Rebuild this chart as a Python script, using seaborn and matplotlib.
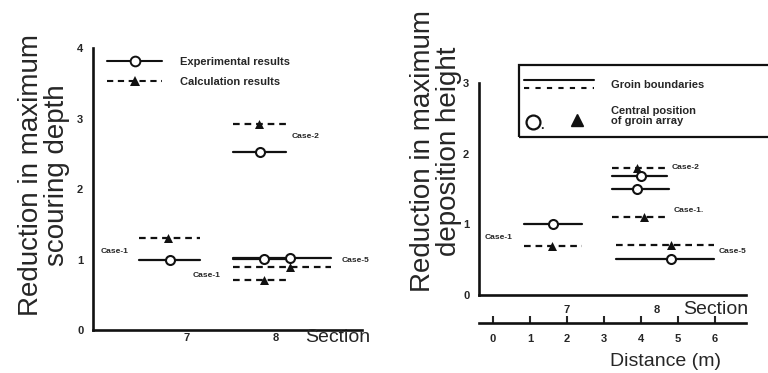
import matplotlib
matplotlib.use("Agg")
import matplotlib.pyplot as plt
from matplotlib.lines import Line2D
from matplotlib.patches import Rectangle
import seaborn as sns
import pandas as pd

# --- left panel: reduction in maximum scouring depth ---
left_cases = ["Case-1 (7)", "Case-2 (8)", "Case-1 (8)", "Case-5 (8)"]
left_x0 = [6.47, 7.52, 7.52, 7.52]
left_x1 = [7.15, 8.12, 8.12, 8.62]
left_exp_x = [6.81, 7.82, 7.87, 8.16]
left_exp_y = [1.00, 2.52, 1.01, 1.02]
left_calc_x = [6.79, 7.81, 7.87, 8.16]
left_calc_y = [1.30, 2.92, 0.71, 0.89]
left_labels = ["Case-1", "Case-2", "Case-1", "Case-5"]
left_label_x = [6.04, 8.18, 7.07, 8.74]
left_label_y = [1.11, 2.74, 0.78, 0.98]

# --- right panel: reduction in maximum deposition height ---
right_cases = ["Case-1 (7)", "Case-2 (8)", "Case-1 (8)", "Case-5 (8)"]
right_x0 = [6.52, 7.50, 7.50, 7.54]
right_x1 = [7.17, 8.11, 8.13, 8.63]
right_exp_x = [6.84, 7.82, 7.78, 8.16]
right_exp_y = [1.00, 1.68, 1.50, 0.51]
right_calc_x = [6.83, 7.78, 7.86, 8.16]
right_calc_y = [0.69, 1.80, 1.10, 0.71]
right_labels = ["Case-2", "Case-1.", "Case-5", "Case-1"]
right_label_x = [8.16, 8.19, 8.69, 6.08]
right_label_y = [1.80, 1.19, 0.62, 0.82]

sections = [7, 8]
distances = [0, 1, 2, 3, 4, 5, 6]

INK = "#111111"
DASH = (3, 2.2)


def segments_frame(cases, x0, x1, exp_y, calc_y):
    rows = []
    for i, c in enumerate(cases):
        for kind, y in (("exp", exp_y[i]), ("calc", calc_y[i])):
            rows.append({"seg": f"{c}-{kind}", "kind": kind, "x": x0[i], "y": y})
            rows.append({"seg": f"{c}-{kind}", "kind": kind, "x": x1[i], "y": y})
    return pd.DataFrame(rows)


def draw_panel(ax, cases, x0, x1, exp_x, exp_y, calc_x, calc_y):
    df = segments_frame(cases, x0, x1, exp_y, calc_y)
    sns.lineplot(data=df, x="x", y="y", units="seg", style="kind", estimator=None,
                 dashes={"exp": "", "calc": DASH}, color=INK, lw=1.6,
                 sort=False, legend=False, ax=ax)
    sns.scatterplot(x=calc_x, y=calc_y, marker="^", color=INK, s=42,
                    linewidth=0, zorder=4, ax=ax)
    sns.scatterplot(x=exp_x, y=exp_y, marker="o", facecolor="white",
                    edgecolor=INK, s=42, linewidth=1.5, zorder=4, ax=ax)


def style_axes(ax):
    sns.despine(ax=ax)
    for s in ("left", "bottom"):
        ax.spines[s].set_linewidth(1.9)
        ax.spines[s].set_color(INK)
    ax.set_xlabel("")
    ax.tick_params(axis="y", direction="in", length=5, width=1.5, pad=7,
                   labelsize=8)
    ax.tick_params(axis="x", direction="in", length=9, width=1.5,
                   labelsize=8)
    for t in ax.get_xticklabels() + ax.get_yticklabels():
        t.set_fontweight("bold")


sns.set_style("white")
plt.rcParams["font.family"] = ["Liberation Sans", "DejaVu Sans"]

fig = plt.figure(figsize=(7.68, 3.73), dpi=100)

# left axes
axl = fig.add_axes([93 / 768, 43 / 373, 269 / 768, 282 / 373])
draw_panel(axl, left_cases, left_x0, left_x1, left_exp_x, left_exp_y,
           left_calc_x, left_calc_y)
axl.set_xlim(5.95, 8.97)
axl.set_ylim(0, 4)
axl.set_xticks(sections)
axl.set_yticks([0, 1, 2, 3, 4])
style_axes(axl)
axl.tick_params(axis="x", pad=2)
axl.set_ylabel("Reduction in maximum\nscouring depth", fontsize=20,
               linespacing=1.0)
axl.yaxis.set_label_coords(-0.085, 0.55)
axl.text(0.79, -0.025, "Section", transform=axl.transAxes, fontsize=14,
         ha="left", va="center")
for lab, lx, ly in zip(left_labels, left_label_x, left_label_y):
    axl.text(lx, ly, lab, fontsize=6, fontweight="bold", va="center")

handles = [
    Line2D([], [], color=INK, lw=1.5, marker="o", markerfacecolor="white",
           markeredgecolor=INK, markersize=7, markeredgewidth=1.4),
    Line2D([], [], color=INK, lw=1.5, ls=(0, DASH), marker="^",
           markersize=7, markeredgewidth=0),
]
axl.legend(handles, ["Experimental results", "Calculation results"],
           loc="upper left", bbox_to_anchor=(0.035, 0.985), frameon=False,
           handlelength=5, handletextpad=1.6, labelspacing=0.95,
           borderaxespad=0, prop={"weight": "bold", "size": 8})

# right axes
axr = fig.add_axes([479 / 768, 78 / 373, 267 / 768, 212 / 373])
draw_panel(axr, right_cases, right_x0, right_x1, right_exp_x, right_exp_y,
           right_calc_x, right_calc_y)
axr.set_xlim(6.02, 8.99)
axr.set_ylim(0, 3)
axr.set_xticks(sections)
axr.set_yticks([0, 1, 2, 3])
style_axes(axr)
axr.tick_params(axis="x", pad=7)
axr.set_ylabel("Reduction in maximum\ndeposition height", fontsize=20,
               linespacing=1.0)
axr.yaxis.set_label_coords(-0.065, 0.68)
axr.text(0.765, -0.07, "Section", transform=axr.transAxes, fontsize=14,
         ha="left", va="center")
for lab, lx, ly in zip(right_labels, right_label_x, right_label_y):
    axr.text(lx, ly, lab, fontsize=6, fontweight="bold", va="center")

# distance axis under the section axis
sec = axr.secondary_xaxis(-0.132, functions=(lambda s: 2 + (s - 7) * 2.43,
                                              lambda d: 7 + (d - 2) / 2.43))
sec.set_xticks(distances)
sec.spines["bottom"].set_linewidth(1.9)
sec.spines["bottom"].set_color(INK)
sec.tick_params(direction="in", length=5, width=1.5, pad=8, labelsize=8)
for t in sec.get_xticklabels():
    t.set_fontweight("bold")
axr.text(0.70, -0.316, "Distance (m)", transform=axr.transAxes, fontsize=14,
         ha="center", va="center")

# boxed key of the right panel
fig.add_artist(Rectangle((519 / 768, 236 / 373), 300 / 768, 72 / 373,
                         transform=fig.transFigure, fill=False, lw=1.6,
                         edgecolor=INK))
fig.add_artist(Line2D([524 / 768, 594 / 768], [0.7855, 0.7855],
                      transform=fig.transFigure, color=INK, lw=1.5))
fig.add_artist(Line2D([524 / 768, 594 / 768], [0.764, 0.764],
                      transform=fig.transFigure, color=INK, lw=1.5,
                      ls=(0, (2.5, 3))))
fig.text(611 / 768, 0.773, "Groin boundaries", fontsize=8, fontweight="bold",
         va="center")
fig.add_artist(Line2D([533 / 768], [0.672], transform=fig.transFigure,
                      marker="o", markersize=10, markerfacecolor="white",
                      markeredgecolor=INK, markeredgewidth=1.6, ls=""))
fig.text(540 / 768, 0.662, ".", fontsize=9, fontweight="bold", va="center")
fig.add_artist(Line2D([577 / 768], [0.678], transform=fig.transFigure,
                      marker="^", markersize=8, color=INK, ls=""))
fig.text(611 / 768, 0.688, "Central position\nof groin array", fontsize=8,
         fontweight="bold", va="center", linespacing=1.0)

fig.savefig("out.png", dpi=100)
